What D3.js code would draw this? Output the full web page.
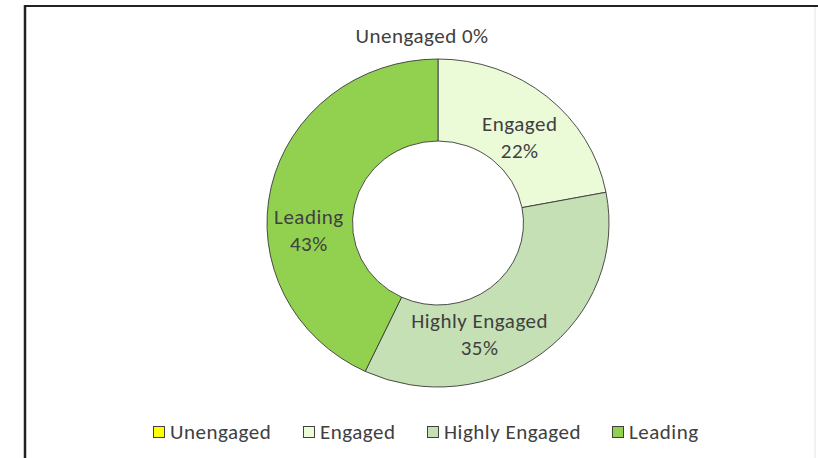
<!DOCTYPE html>
<html>
<head>
<meta charset="utf-8">
<script src="https://cdn.jsdelivr.net/npm/d3@7.9.0/dist/d3.min.js"></script>
<style>
  body { margin: 0; background: #fff; }
  svg text { font-family: Carlito, Lato, "Open Sans", sans-serif; fill: #404040; }
</style>
</head>
<body>
<svg id="chart" width="818" height="458"></svg>
<script>
const categories = ['Unengaged', 'Engaged', 'Highly Engaged', 'Leading'];
const values = [0, 22, 35, 43];
const colorList = ['#ffff00', '#ebfad7', '#c5e0b4', '#92d050'];

const svg = d3.select('#chart');
const cx = 438, cy = 223;
const outerR = 164, innerR = 82;
const sx = 171 / 164; // the source image is a bit wider than tall

// frame
svg.append('line').attr('x1', 25).attr('y1', 6).attr('x2', 818).attr('y2', 6)
  .attr('stroke', '#222').attr('stroke-width', 2);
svg.append('line').attr('x1', 25).attr('y1', 5).attr('x2', 25).attr('y2', 458)
  .attr('stroke', '#222').attr('stroke-width', 2.5);
svg.append('line').attr('x1', 815).attr('y1', 7).attr('x2', 815).attr('y2', 458)
  .attr('stroke', '#e4e4e4').attr('stroke-width', 1);

let data = categories.map((c, i) => ({ label: c, value: values[i] }));
let pie = d3.pie().sort(null).value(d => d.value);
let arcGen = d3.arc().innerRadius(innerR).outerRadius(outerR);
let arcData = pie(data);

let g = svg.append('g').attr('transform', `translate(${cx},${cy}) scale(${sx},1)`);
g.selectAll('path')
  .data(arcData)
  .join('path')
  .attr('d', arcGen)
  .attr('fill', (d, i) => colorList[i])
  .attr('stroke', '#3a3a3a')
  .attr('stroke-width', 0.9)
  .attr('vector-effect', 'non-scaling-stroke');

// label nudges to mimic the spreadsheet's placement
const nudge = [[-16, -57], [0, 9], [-37, 14], [-4, 34]];
const fs = 21;
let lg = svg.append('g').attr('transform', `translate(${cx},${cy})`);
arcData.forEach((d, i) => {
  let [x, y] = arcGen.centroid(d);
  x = x * sx + nudge[i][0];
  y += nudge[i][1];
  let t = lg.append('text')
    .attr('text-anchor', 'middle')
    .attr('font-size', fs)
    .attr('letter-spacing', 0.5);
  if (d.data.value === 0) {
    t.attr('x', x).attr('y', y).text(`${d.data.label} ${d.data.value}%`);
  } else {
    t.append('tspan').attr('x', x).attr('y', y - 6).text(d.data.label);
    t.append('tspan').attr('x', x).attr('y', y + 21).text(`${d.data.value}%`);
  }
});

// legend
const legendX = [153, 303, 427, 612];
let legend = svg.append('g');
categories.forEach((c, i) => {
  legend.append('rect')
    .attr('x', legendX[i] + 0.5).attr('y', 426.5)
    .attr('width', 11).attr('height', 11)
    .attr('fill', colorList[i])
    .attr('stroke', '#404040').attr('stroke-width', 1);
  legend.append('text')
    .attr('x', legendX[i] + 17).attr('y', 439)
    .attr('font-size', fs)
    .attr('letter-spacing', 0.5)
    .text(c);
});
</script>
</body>
</html>
